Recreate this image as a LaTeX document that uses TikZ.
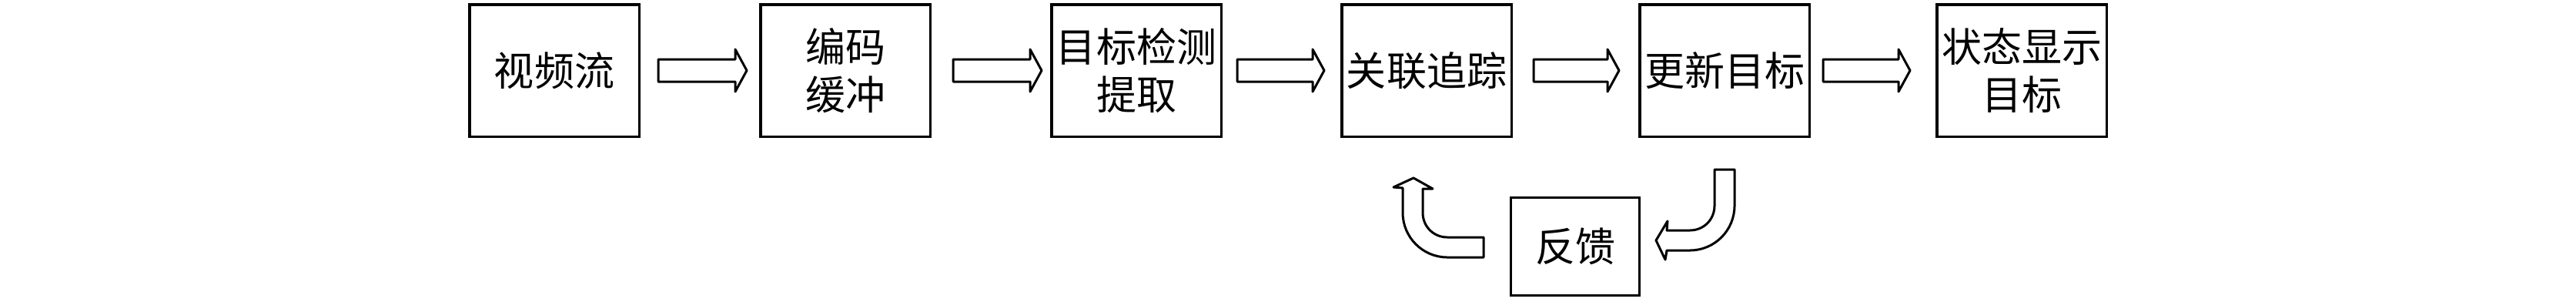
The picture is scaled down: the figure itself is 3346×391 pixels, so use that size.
\documentclass[tikz,border=0pt]{standalone}
\usepackage{fontspec}
\newfontfamily\cjk{Noto Sans CJK SC}
\usetikzlibrary{calc}
\tikzset{
  box/.style={draw=black, line width=0.35mm, minimum width=22.05mm, minimum height=17.15mm,
    inner sep=0pt, align=center, font=\cjk\fontsize{14.8}{17.6}\selectfont},
  fbbox/.style={draw=black, line width=0.3mm, minimum width=16.7mm, minimum height=12.7mm,
    inner sep=0pt, align=center, font=\cjk\fontsize{14.8}{17.6}\selectfont},
  barrow/.style={draw=black, fill=white, line width=0.3mm, line join=round},
}
\newcommand\blockarrow[2]{%
  \draw[barrow] ($(#1)+(0,-14.5)$) -- ($(#2)+(-15,-14.5)$) -- ($(#2)+(-15,-27.5)$) -- (#2)
    -- ($(#2)+(-15,27.5)$) -- ($(#2)+(-15,14.5)$) -- ($(#1)+(0,14.5)$) -- cycle;}
\begin{document}
\begin{tikzpicture}[x=0.1mm, y=-0.1mm]
\useasboundingbox (0,0) rectangle (3346,391);
\node[box] (b1) at (720,91.5) {视频流};
\node[box] (b2) at (1098,91.5) {编码\\缓冲};
\node[box] (b3) at (1476,91.5) {目标检测\\提取};
\node[box] (b4) at (1853,91.5) {关联追踪};
\node[box] (b5) at (2240,91.5) {更新目标};
\node[box] (b6) at (2626,91.5) {状态显示\\目标};
\node[fbbox] (fb) at (2046,320) {反馈};
% straight block arrows
\coordinate (a1s) at ($(b1.east)+(23,0)$);
\coordinate (a1e) at ($(b2.west)+(-16,0)$);
\coordinate (a2s) at ($(b2.east)+(28,0)$);
\coordinate (a2e) at ($(b3.west)+(-11,0)$);
\coordinate (a3s) at ($(b3.east)+(19,0)$);
\coordinate (a3e) at ($(b4.west)+(-21,0)$);
\coordinate (a4s) at ($(b4.east)+(27,0)$);
\coordinate (a4e) at ($(b5.west)+(-25,0)$);
\coordinate (a5s) at ($(b5.east)+(16,0)$);
\coordinate (a5e) at ($(b6.west)+(-33,0)$);
\blockarrow{a1s}{a1e}
\blockarrow{a2s}{a2e}
\blockarrow{a3s}{a3e}
\blockarrow{a4s}{a4e}
\blockarrow{a5s}{a5e}
% curved arrow from 更新目标 to 反馈
\coordinate (rA) at ($(b5.south)+(0,41)$);
\begin{scope}[shift={(rA)}]
\draw[barrow] (-13,0) -- (13,0) -- (13,47) .. controls (13,79) and (-13,105) .. (-45,105)
  -- (-75,105) -- (-77,117) -- (-89,92) -- (-74,67) -- (-75,79) -- (-45,79)
  .. controls (-27,79) and (-13,65) .. (-13,47) -- cycle;
\end{scope}
% curved arrow from 反馈 back up
\coordinate (lA) at ($(fb.west)+(-34,0)$);
\begin{scope}[shift={(lA)}]
\draw[barrow] (0,-12) -- (0,14) -- (-47,14) .. controls (-79,14) and (-105,-12) .. (-105,-44)
  -- (-105,-76) -- (-117,-77) -- (-91,-89) -- (-66,-75) -- (-79,-75) -- (-79,-44)
  .. controls (-79,-26) and (-65,-12) .. (-47,-12) -- cycle;
\end{scope}
\end{tikzpicture}
\end{document}
